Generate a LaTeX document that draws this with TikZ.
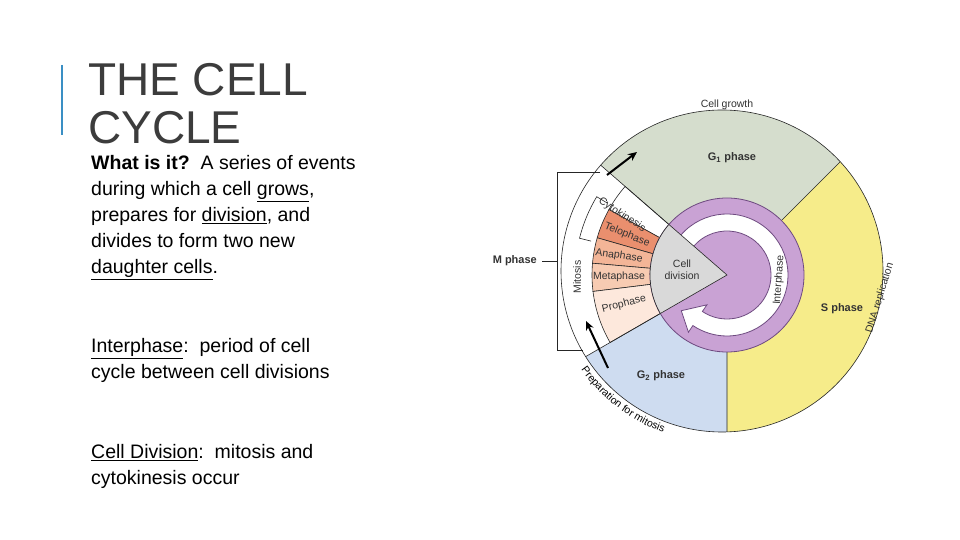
\documentclass[tikz,border=0pt]{standalone}
\usepackage{fontspec}
\setmainfont{Liberation Sans}
\usetikzlibrary{arrows.meta,decorations.text,calc}
\definecolor{gone}{HTML}{D5DDCD}
\definecolor{sph}{HTML}{F6EC8A}
\definecolor{gtwo}{HTML}{CEDCF0}
\definecolor{purp}{HTML}{C9A2D4}
\definecolor{purpd}{HTML}{6E4A80}
\definecolor{greyw}{HTML}{D9D9D9}
\definecolor{telo}{HTML}{EA8F6E}
\definecolor{ana}{HTML}{F3B597}
\definecolor{meta}{HTML}{F7CBB2}
\definecolor{pro}{HTML}{FDE8DC}
\definecolor{accent}{HTML}{3A8FC4}
\definecolor{titlec}{HTML}{3C3C3C}
\tikzset{
 lab/.style={font=\fontsize{10.5}{12}\selectfont, text=black!80, inner sep=0pt},
 blab/.style={font=\fontsize{11}{13}\selectfont\bfseries, text=black!80, inner sep=0pt},
 body/.style={font=\fontsize{19.5}{26}\selectfont, align=left, anchor=base west, inner sep=0pt},
 bigarrow/.style={line width=2pt, -{Stealth[length=9pt,width=8pt]}},
 thinl/.style={draw=black!85, line width=0.6pt}
}
\begin{document}
\begin{tikzpicture}[x=1pt,y=1pt]
\useasboundingbox (0,0) rectangle (960,540);
\fill[white] (0,0) rectangle (960,540);
% left text
\draw[accent, line width=2pt] (62,475) -- (62,405);
\node[anchor=base west, inner sep=0pt, font=\fontsize{46}{48}\selectfont, text=titlec] (t1) at (88,444) {THE CELL};
\node[anchor=base west, inner sep=0pt, font=\fontsize{46}{48}\selectfont, text=titlec] (t2) at (88,396) {CYCLE};
\node[body] (p1) at (91,266) {\textbf{What is it?}\ \ A series of events\\during which a cell \underline{grows},\\prepares for \underline{division}, and\\divides to form two new\\\underline{daughter cells}.};
\node[body] (p2) at (91,161) {\underline{Interphase}:\ \ period of cell\\cycle between cell divisions};
\node[body] (p3) at (91,55) {\underline{Cell Division}:\ \ mitosis and\\cytokinesis occur};
% diagram
\coordinate (Ci) at (727,265);
\coordinate (Co) at (722,269);
\begin{scope}
\clip (Co) circle (161);
\fill[gone] (Ci) -- ++(45:220) arc(45:139:220) -- cycle;
\fill[sph] (Ci) -- ++(-90:220) arc(-90:45:220) -- cycle;
\fill[gtwo] (Ci) -- ++(210:220) arc(210:270:220) -- cycle;
\fill[white] (Ci) -- ++(139:220) arc(139:210:220) -- cycle;
\filldraw[fill=white,thinl] (Ci) -- ++(139:135) arc(139:151:135) -- cycle;
\filldraw[fill=telo,thinl] (Ci) -- ++(151:135) arc(151:164:135) -- cycle;
\filldraw[fill=ana,thinl] (Ci) -- ++(164:135) arc(164:175:135) -- cycle;
\filldraw[fill=meta,thinl] (Ci) -- ++(175:135) arc(175:187:135) -- cycle;
\filldraw[fill=pro,thinl] (Ci) -- ++(187:135) arc(187:210:135) -- cycle;
\draw[thinl] (Ci) -- ++(45:220) (Ci) -- ++(139:220) (Ci) -- ++(210:220) (Ci) -- ++(270:220);
\end{scope}
\draw[thinl] (Co) circle (161);
% small bracket in white band
\draw[thinl] ($(Ci)+(149:140)$) -- ($(Ci)+(149:152)$) arc(149:166:152) -- ($(Ci)+(166:140)$);
% purple disk
\filldraw[fill=purp, draw=purpd, line width=0.8pt] (Ci) circle (77);
% white ring arrow
\filldraw[fill=white, draw=purpd, line width=0.8pt]
  ($(Ci)+(150:61)$) arc(150:-124:61) -- ($(Ci)+(-124:69)$) -- ($(Ci)+(-142:58)$)
  -- ($(Ci)+(-124:36)$) -- ($(Ci)+(-124:44)$) arc(-124:150:44) -- cycle;
% grey wedge
\filldraw[fill=greyw, thinl] (Ci) -- ++(139:77) arc(139:210:77) -- cycle;
% labels
\node[lab] (cd) at ($(Ci)+(-45,4)$) {\begin{tabular}{@{}c@{}}Cell\\division\end{tabular}};
\node[lab, rotate=86] (ip) at ($(Ci)+(52,-5)$) {Interphase};
\node[lab, rotate=-33] (cy) at ($(Ci)+(-105,60)$) {Cytokinesis};
\node[lab, rotate=-22] (te) at ($(Ci)+(-100,40)$) {Telophase};
\node[lab, rotate=-8] (an) at ($(Ci)+(-108,19)$) {Anaphase};
\node[lab] (me) at ($(Ci)+(-108,-2)$) {Metaphase};
\node[lab, rotate=14] (pr) at ($(Ci)+(-103,-29)$) {Prophase};
\node[lab, rotate=90] (mi) at ($(Ci)+(-150,-2)$) {Mitosis};
\node[blab] (g1) at (732,382) {G\textsubscript{1} phase};
\node[blab] (sp) at (842,231) {S phase};
\node[blab] (g2) at (661,164) {G\textsubscript{2} phase};
\node[lab] (cg) at (727,435) {Cell growth};
\node[lab, rotate=73] (dna) at (880,242) {DNA replication};
\path[postaction={decorate}, decoration={text along path, text={|\fontsize{10.5}{12}\selectfont|Preparation for mitosis}, text align=center}] ($(Co)+(199:172)$) arc(199:266:172);
% arrows in band
\coordinate (a1s) at (607,365);
\coordinate (a1e) at (637,388);
\draw[bigarrow] (a1s) -- (a1e);
\coordinate (a2s) at (608,172);
\coordinate (a2e) at (586,219);
\draw[bigarrow] (a2s) -- (a2e);
% M phase bracket
\node[blab, anchor=east] (mp) at (537,279) {M phase};
\coordinate (b1) at (600,368);
\coordinate (b2) at (557,368);
\coordinate (b3) at (557,190);
\coordinate (b4) at (583,190);
\draw[thinl] (b1) -- (b2) -- (b3) -- (b4);
\draw[thinl] (mp.east) ++(5,0) -- (b2 |- mp.east);
\end{tikzpicture}
\end{document}
